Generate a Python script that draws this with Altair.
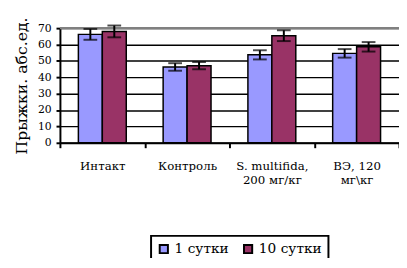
import altair as alt
import pandas as pd

categories = ["Интакт", "Контроль", "S. multifida,|200 мг/кг", "ВЭ, 120|мг\\кг"]
series = ["1 сутки", "10 сутки"]
day1 = [66.2, 46.3, 53.7, 54.6]
day1_err = [3.3, 2.3, 2.8, 2.6]
day10 = [68.0, 47.1, 65.4, 58.6]
day10_err = [3.6, 2.2, 3.3, 2.9]
colors = ["#9999FF", "#993366"]
y_ticks = [0, 10, 20, 30, 40, 50, 60, 70]
y_title = "Прыжки. абс.ед."

rows = []
for i, c in enumerate(categories):
    for s, v, e in ((series[0], day1[i], day1_err[i]), (series[1], day10[i], day10_err[i])):
        rows.append({"cat": c, "series": s, "value": v, "lo": v - e, "hi": v + e})
df = pd.DataFrame(rows)

serif = "DejaVu Serif"

x_axis = alt.Axis(labelExpr="split(datum.label, '|')", labelAngle=0, tickBand="extent", grid=False)
y_axis = alt.Axis(values=y_ticks, grid=True, labelOverlap=False)
x_scale = alt.Scale(paddingInner=0, paddingOuter=0)
y_scale = alt.Scale(domain=[0, 70], nice=False)


def xe():
    return alt.X("cat:N", sort=categories, title=None, scale=x_scale, axis=x_axis)


def ye(field):
    return alt.Y(field, scale=y_scale, title=y_title, axis=y_axis)


xo_enc = alt.XOffset("series:N", sort=series,
                     scale=alt.Scale(paddingInner=0, paddingOuter=0.77))

bars = alt.Chart(df).mark_bar(stroke="black", strokeWidth=1.5).encode(
    x=xe(), xOffset=xo_enc, y=ye("value:Q"),
    color=alt.Color("series:N", sort=series,
                    scale=alt.Scale(domain=series, range=colors),
                    legend=alt.Legend(title=None, orient="none", legendX=93, legendY=212,
                                      direction="horizontal", symbolType="square",
                                      symbolSize=70, symbolStrokeColor="black",
                                      symbolStrokeWidth=2, labelFont=serif,
                                      labelFontSize=14, labelColor="black",
                                      padding=6, columnPadding=10, labelOffset=4)),
)

err = alt.Chart(df).mark_rule(color="black", strokeWidth=2).encode(
    x=xe(), xOffset=xo_enc, y=ye("lo:Q"), y2="hi:Q")
cap_lo = alt.Chart(df).mark_tick(color="black", thickness=2, size=14, orient="horizontal").encode(
    x=xe(), xOffset=xo_enc, y=ye("lo:Q"))
cap_hi = alt.Chart(df).mark_tick(color="black", thickness=2, size=14, orient="horizontal").encode(
    x=xe(), xOffset=xo_enc, y=ye("hi:Q"))
top = alt.Chart(pd.DataFrame({"v": [70]})).mark_rule(color="#808080", strokeWidth=2.5).encode(
    y=ye("v:Q"))

chart = (alt.layer(bars, top, err, cap_lo, cap_hi).properties(
    width=346, height=117,
    autosize=alt.AutoSizeParams(type="none"),
    padding={"left": 53, "top": 18, "right": 0, "bottom": 115},
).configure_view(stroke=None)
 .configure(background="white", font=serif)
 .configure_legend(strokeColor="black", strokeWidth=2)
 .configure_axis(labelFont=serif, labelColor="black", tickColor="black", tickWidth=2,
                 domainColor="black", domainWidth=2, titleFont=serif,
                 titleFontWeight="normal", titleColor="black")
 .configure_axisX(labelFontSize=12, labelLineHeight=15, labelPadding=13,
                  labelBaseline="top", tickSize=5)
 .configure_axisY(labelFontSize=11, labelPadding=5, tickSize=4, gridColor="black",
                  gridWidth=1.5, titleFontSize=16, titlePadding=8))

chart.save("out.html", embed_options={"renderer": "svg", "actions": False})
